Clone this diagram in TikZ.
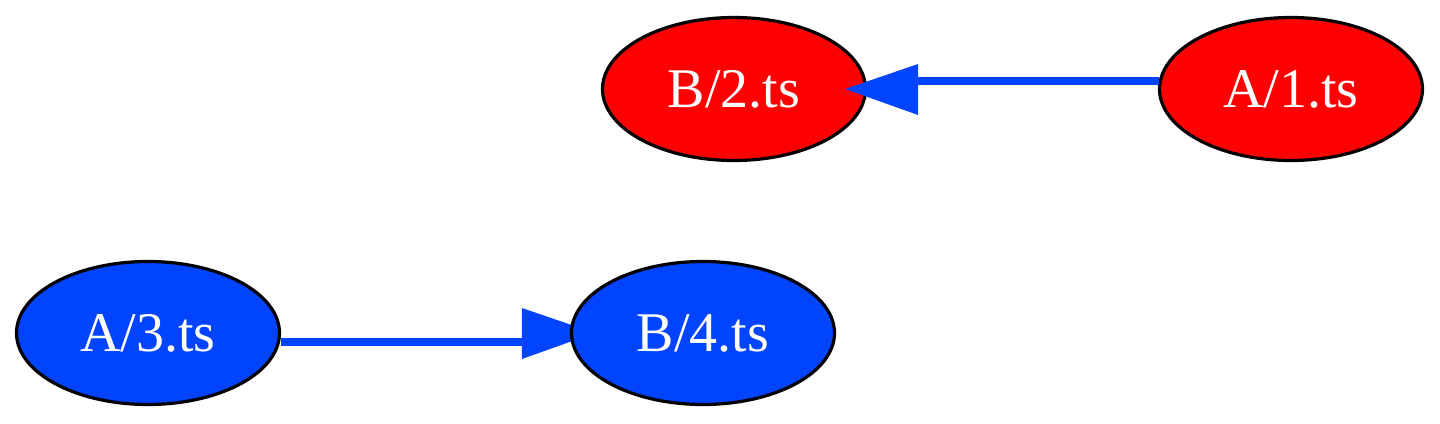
\documentclass[tikz,border=0pt]{standalone}
\usepackage{fontspec}
\setmainfont{Liberation Serif}
\usetikzlibrary{shapes.geometric,calc}
\definecolor{nred}{RGB}{255,0,0}
\definecolor{nblue}{RGB}{0,68,255}
\pgfdeclarelayer{bg}
\pgfsetlayers{bg,main}
\begin{document}
\begin{tikzpicture}[x=0.5pt,y=-0.5pt,
  gnode/.style={ellipse,draw=black,line width=1.6pt,minimum width=131.5pt,minimum height=71.5pt,inner sep=0pt,text=white,font=\fontsize{28}{32}\selectfont},
  edgeline/.style={draw=nblue,line width=4pt},
  edgehead/.style={fill=nblue}]
\useasboundingbox (0,0) rectangle (1440,423);
\node[gnode,fill=nred] (B2) at (734,89) {B/2.ts};
\node[gnode,fill=nred] (A1) at (1291,89) {A/1.ts};
\node[gnode,fill=nblue] (A3) at (148,333) {A/3.ts};
\node[gnode,fill=nblue] (B4) at (703,333) {B/4.ts};
\draw[edgeline] ($(A1.west)+(1,-8)$) -- ($(B2.east)+(51,-8)$);
\fill[edgehead] ($(B2.east)+(51,-25)$) -- ($(B2.east)+(-22,0)$) -- ($(B2.east)+(51,26)$) -- cycle;
\begin{pgfonlayer}{bg}
\draw[edgeline] ($(A3.east)+(0,9)$) -- ($(B4.west)+(-48,9)$);
\fill[edgehead] ($(B4.west)+(-48,-25)$) -- ($(B4.west)+(25,0)$) -- ($(B4.west)+(-48,26)$) -- cycle;
\end{pgfonlayer}
\end{tikzpicture}
\end{document}
